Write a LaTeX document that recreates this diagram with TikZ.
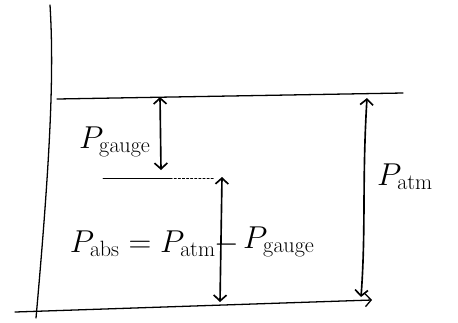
\RequirePackage{fix-cm}
\documentclass[tikz,border=0pt]{standalone}
\usetikzlibrary{arrows.meta}
\begin{document}
\begin{tikzpicture}[x=0.03cm, y=-0.03cm, line cap=round,
    level/.style={line width=1.1pt},
    dim/.style={line width=1.4pt, {Straight Barb[length=5pt,width=11pt]}-{Straight Barb[length=5pt,width=11pt]}},
    lbl/.style={font=\fontsize{27}{32}\selectfont, inner sep=0pt}]
    \useasboundingbox (0,0) rectangle (458,322);

    % Define the corner points of the axes
    \coordinate (ytop) at (50,5);
    \coordinate (ybot) at (36,318);
    \coordinate (xleft) at (15,312);
    \coordinate (xright) at (372,300);

    % Define the levels
    \coordinate (atmL) at (57,99);
    \coordinate (atmR) at (403,93);
    \coordinate (gaugeL) at (103,178);
    \coordinate (gaugeM) at (170,178);
    \coordinate (gaugeR) at (215,178);

    % Define the ends of the arrows
    \coordinate (gtop) at (160,97);
    \coordinate (gbot) at (161,170);
    \coordinate (abstop) at (222,177);
    \coordinate (absbot) at (220,302);
    \coordinate (atmtop) at (367,98);
    \coordinate (atmbot) at (361,297);

    % Draw the axes
    \draw[level] (ytop) .. controls (54,70) and (51,150) .. (ybot);
    \draw[level, -{Straight Barb[length=5pt,width=11pt]}] (xleft) -- (xright);

    % Draw the levels
    \draw[level] (atmL) -- (atmR);
    \draw[line width=0.7pt] (gaugeL) -- (gaugeM);
    \draw[dash pattern=on 2pt off 1.5pt, line width=0.5pt] (gaugeM) -- (gaugeR);

    % Draw the arrows
    \draw[dim] (gtop) -- (gbot);
    \draw[dim] (abstop) -- (absbot);
    \draw[dim] (atmtop) .. controls (362,180) and (366,230) .. (atmbot);

    % Add labels
    \node[lbl, anchor=base west] (pgauge) at (79,148) {$P_{\mathrm{gauge}}$};
    \node[lbl, anchor=base east] (pabs) at (216,252) {$P_{\mathrm{abs}} = P_{\mathrm{atm}}$};
    \node[lbl, anchor=base] (minus) at (227,252) {$-$};
    \node[lbl, anchor=base west] (pgauge2) at (243,248) {$P_{\mathrm{gauge}}$};
    \node[lbl, anchor=base west] (patm) at (377,185) {$P_{\mathrm{atm}}$};
\end{tikzpicture}
\end{document}
